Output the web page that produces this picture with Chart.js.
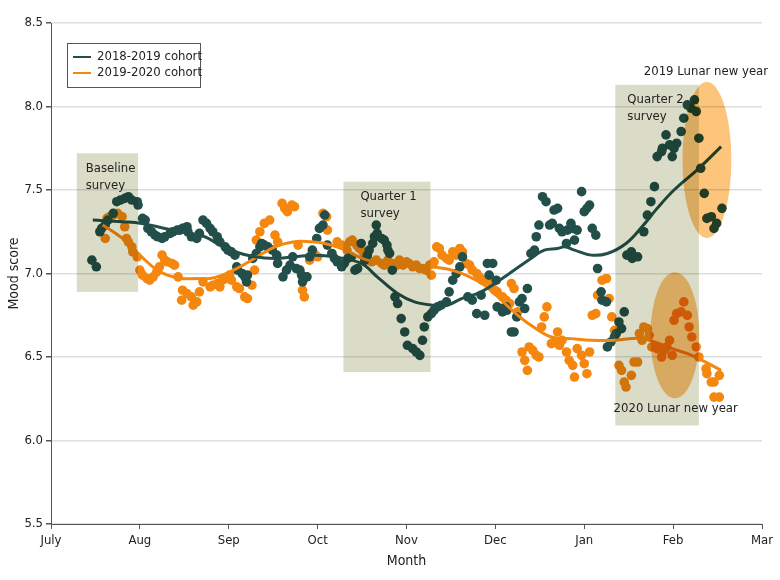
<!DOCTYPE html>
<html>
<head>
<meta charset="utf-8">
<script src="https://cdn.jsdelivr.net/npm/chart.js@4.4.1/dist/chart.umd.min.js"></script>
<style>
  html, body { margin: 0; padding: 0; background: #fff; }
  #wrap { width: 780px; height: 580px; }
</style>
</head>
<body>
<div id="wrap"><canvas id="moodChart" width="780" height="580"></canvas></div>
<script>
// Month tick labels (x = months since July 1)
const monthLabels = ['July', 'Aug', 'Sep', 'Oct', 'Nov', 'Dec', 'Jan', 'Feb', 'Mar'];
const seriesNames = ['2018-2019 cohort', '2019-2020 cohort'];

// Daily mood scores, [month, score]
const cohort1Points = [
  [0.46,7.08],[0.51,7.04],[0.55,7.25],[0.57,7.27],[0.61,7.29],[0.64,7.32],[0.70,7.36],[0.74,7.43],[0.78,7.44],[0.83,7.45],
  [0.87,7.46],[0.91,7.44],[0.97,7.43],[0.98,7.41],[1.03,7.33],[1.06,7.32],[1.09,7.27],[1.13,7.25],[1.17,7.23],[1.20,7.22],
  [1.25,7.21],[1.28,7.22],[1.34,7.24],[1.37,7.25],[1.42,7.26],[1.45,7.26],[1.48,7.27],[1.53,7.28],[1.54,7.25],[1.58,7.22],
  [1.64,7.21],[1.67,7.24],[1.71,7.32],[1.75,7.30],[1.79,7.27],[1.82,7.25],[1.87,7.22],[1.90,7.19],[1.96,7.16],[1.99,7.14],
  [2.03,7.13],[2.07,7.11],[2.09,7.04],[2.10,7.02],[2.15,7.00],[2.18,6.98],[2.20,6.95],[2.21,6.99],[2.27,7.09],[2.31,7.12],
  [2.35,7.16],[2.37,7.18],[2.40,7.17],[2.44,7.16],[2.49,7.14],[2.54,7.11],[2.55,7.06],[2.61,6.98],[2.65,7.02],[2.69,7.05],
  [2.72,7.10],[2.76,7.03],[2.80,7.02],[2.82,6.99],[2.83,6.95],[2.88,6.98],[2.91,7.10],[2.94,7.14],[2.99,7.21],[3.02,7.27],
  [3.06,7.29],[3.08,7.35],[3.11,7.17],[3.16,7.12],[3.19,7.09],[3.22,7.07],[3.27,7.04],[3.30,7.06],[3.34,7.09],[3.38,7.10],
  [3.42,7.02],[3.45,7.03],[3.49,7.18],[3.53,7.08],[3.56,7.11],[3.58,7.14],[3.62,7.18],[3.64,7.22],[3.66,7.29],[3.67,7.24],
  [3.72,7.21],[3.75,7.20],[3.78,7.17],[3.79,7.14],[3.81,7.12],[3.84,7.02],[3.87,6.86],[3.90,6.82],[3.94,6.73],[3.98,6.65],
  [4.01,6.57],[4.07,6.55],[4.11,6.53],[4.15,6.51],[4.18,6.60],[4.20,6.68],[4.24,6.74],[4.28,6.76],[4.31,6.78],[4.35,6.80],
  [4.39,6.81],[4.45,6.83],[4.48,6.89],[4.52,6.96],[4.56,7.00],[4.60,7.04],[4.63,7.10],[4.69,6.86],[4.74,6.84],[4.79,6.76],
  [4.84,6.87],[4.88,6.75],[4.91,7.06],[4.93,6.99],[4.97,7.06],[5.01,6.96],[5.02,6.80],[5.07,6.79],[5.08,6.77],[5.12,6.80],
  [5.13,6.78],[5.18,6.65],[5.21,6.65],[5.24,6.74],[5.27,6.83],[5.30,6.85],[5.33,6.79],[5.36,6.91],[5.40,7.12],[5.44,7.14],
  [5.46,7.22],[5.49,7.29],[5.53,7.46],[5.57,7.43],[5.61,7.29],[5.64,7.30],[5.66,7.38],[5.70,7.39],[5.72,7.27],[5.75,7.25],
  [5.80,7.18],[5.81,7.26],[5.85,7.30],[5.87,7.27],[5.89,7.20],[5.92,7.26],[5.97,7.49],[6.00,7.37],[6.03,7.39],[6.06,7.41],
  [6.09,7.27],[6.13,7.23],[6.15,7.03],[6.19,6.89],[6.20,6.84],[6.25,6.83],[6.26,6.56],[6.30,6.59],[6.34,6.62],[6.36,6.64],
  [6.39,6.71],[6.42,6.67],[6.45,6.77],[6.48,7.11],[6.53,7.13],[6.54,7.09],[6.60,7.10],[6.67,7.25],[6.71,7.35],[6.75,7.43],
  [6.79,7.52],[6.82,7.70],[6.87,7.73],[6.88,7.75],[6.92,7.83],[6.96,7.77],[6.99,7.70],[7.01,7.75],[7.04,7.78],[7.09,7.85],
  [7.12,7.93],[7.16,8.01],[7.20,7.99],[7.24,8.04],[7.26,7.97],[7.29,7.81],[7.31,7.63],[7.35,7.48],[7.38,7.33],[7.43,7.34],
  [7.46,7.27],[7.49,7.30],[7.55,7.39]
];

const cohort2Points = [
  [0.61,7.21],[0.63,7.33],[0.66,7.34],[0.70,7.35],[0.75,7.36],[0.80,7.34],[0.83,7.28],[0.85,7.21],[0.87,7.19],[0.91,7.16],
  [0.92,7.13],[0.97,7.10],[1.00,7.02],[1.03,6.99],[1.08,6.97],[1.11,6.96],[1.15,6.98],[1.19,7.01],[1.22,7.04],[1.25,7.11],
  [1.28,7.08],[1.31,7.07],[1.36,7.06],[1.39,7.05],[1.43,6.98],[1.48,6.90],[1.47,6.84],[1.53,6.88],[1.58,6.86],[1.60,6.81],
  [1.64,6.83],[1.67,6.89],[1.71,6.95],[1.79,6.92],[1.82,6.93],[1.87,6.94],[1.90,6.92],[1.93,6.96],[1.98,6.97],[2.01,6.99],
  [2.03,6.96],[2.09,6.92],[2.12,6.91],[2.18,6.86],[2.21,6.85],[2.26,6.93],[2.29,7.02],[2.31,7.20],[2.35,7.25],[2.40,7.30],
  [2.46,7.32],[2.52,7.23],[2.55,7.19],[2.60,7.42],[2.63,7.39],[2.66,7.37],[2.71,7.41],[2.74,7.40],[2.78,7.17],[2.83,6.90],
  [2.85,6.86],[2.91,7.08],[2.96,7.12],[3.00,7.10],[3.06,7.36],[3.10,7.34],[3.11,7.26],[3.16,7.12],[3.22,7.19],[3.27,7.17],
  [3.33,7.14],[3.36,7.19],[3.39,7.20],[3.44,7.17],[3.47,7.15],[3.51,7.13],[3.55,7.11],[3.56,7.08],[3.61,7.07],[3.66,7.08],
  [3.72,7.06],[3.75,7.05],[3.79,7.08],[3.84,7.06],[3.89,7.05],[3.92,7.08],[3.96,7.05],[4.00,7.07],[4.03,7.06],[4.07,7.04],
  [4.11,7.05],[4.15,7.03],[4.18,7.03],[4.22,7.02],[4.26,7.05],[4.28,6.99],[4.31,7.07],[4.34,7.16],[4.37,7.15],[4.40,7.11],
  [4.45,7.09],[4.48,7.08],[4.52,7.13],[4.56,7.11],[4.60,7.15],[4.63,7.13],[4.67,7.06],[4.71,7.05],[4.74,7.02],[4.79,7.00],
  [4.82,6.98],[4.85,6.96],[4.91,6.96],[4.96,6.92],[4.99,6.90],[5.02,6.89],[5.08,6.86],[5.12,6.84],[5.16,6.82],[5.18,6.94],
  [5.21,6.91],[5.25,6.77],[5.30,6.53],[5.33,6.48],[5.36,6.42],[5.38,6.56],[5.42,6.54],[5.46,6.51],[5.49,6.50],[5.52,6.68],
  [5.55,6.74],[5.58,6.80],[5.63,6.58],[5.66,6.59],[5.70,6.65],[5.72,6.57],[5.75,6.60],[5.80,6.53],[5.83,6.48],[5.87,6.45],
  [5.89,6.38],[5.92,6.55],[5.97,6.51],[6.00,6.46],[6.03,6.40],[6.06,6.53],[6.09,6.75],[6.13,6.76],[6.15,6.87],[6.20,6.96],
  [6.25,6.97],[6.28,6.85],[6.31,6.74],[6.34,6.66],[6.39,6.45],[6.42,6.42],[6.45,6.35],[6.47,6.32],[6.53,6.39],[6.56,6.47],
  [6.60,6.47],[6.62,6.64],[6.65,6.60],[6.67,6.68],[6.71,6.67],[6.73,6.63],[6.76,6.56],[6.82,6.55],[6.87,6.50],[6.90,6.54],
  [6.93,6.56],[6.96,6.60],[6.99,6.51],[7.01,6.72],[7.04,6.76],[7.09,6.77],[7.12,6.83],[7.16,6.75],[7.18,6.68],[7.21,6.62],
  [7.26,6.56],[7.29,6.50],[7.37,6.43],[7.38,6.40],[7.43,6.35],[7.46,6.35],[7.52,6.39],[7.46,6.26],[7.52,6.26]
];

// Smoothed trend lines
const cohort1Trend = [
  [0.47,7.32],[0.80,7.31],[1.02,7.30],[1.28,7.27],[1.47,7.25],[1.73,7.22],[1.90,7.17],[2.07,7.13],[2.29,7.10],[2.52,7.09],
  [2.74,7.10],[2.97,7.11],[3.19,7.10],[3.49,7.06],[3.67,6.98],[3.90,6.88],[4.09,6.83],[4.31,6.81],[4.46,6.81],[4.62,6.85],
  [4.84,6.89],[5.13,6.99],[5.40,7.09],[5.55,7.14],[5.70,7.15],[5.78,7.16],[5.89,7.14],[6.08,7.11],[6.26,7.12],[6.47,7.18],
  [6.65,7.28],[6.82,7.39],[7.01,7.50],[7.29,7.63],[7.54,7.76]
];
const cohort2Trend = [
  [0.58,7.29],[0.70,7.25],[0.85,7.19],[1.02,7.10],[1.17,7.03],[1.31,6.99],[1.47,6.97],[1.64,6.97],[1.79,6.97],[1.93,6.99],
  [2.09,7.03],[2.29,7.09],[2.52,7.16],[2.74,7.19],[2.91,7.19],[3.08,7.18],[3.27,7.15],[3.56,7.08],[3.94,7.05],[4.28,7.04],
  [4.51,7.02],[4.71,6.98],[4.88,6.93],[4.99,6.88],[5.21,6.77],[5.40,6.69],[5.63,6.62],[5.85,6.61],[6.08,6.60],[6.34,6.60],
  [6.51,6.61],[6.65,6.61],[6.79,6.59],[6.99,6.55],[7.21,6.51],[7.54,6.42]
];

// Survey windows: [from, to, bottom, top, label]
const surveyBoxes = [
  [0.29, 0.98, 6.89, 7.72, ['Baseline', 'survey']],
  [3.29, 4.27, 6.41, 7.55, ['Quarter 1', 'survey']],
  [6.35, 7.29, 6.09, 8.13, ['Quarter 2', 'survey']]
];
// Lunar new year ellipses: [centerX, centerY, radiusX, radiusY]
const lunarEllipses = [
  [7.38, 7.68, 0.275, 0.467],
  [7.02, 6.63, 0.275, 0.377]
];
const lunarLabels = [
  [6.67, 8.21, '2019 Lunar new year'],
  [6.33, 6.19, '2020 Lunar new year']
];

const tealColor = '#234f4a';
const orangeColor = '#f5870e';
const fontFamily = "'Liberation Sans Narrow', 'DejaVu Sans Condensed', 'Roboto', sans-serif";

function toXY(list) {
  return list.map(p => ({ x: p[0], y: p[1] }));
}

// Draws the survey boxes, ellipses, notes and legend over the plot
const overlayPlugin = {
  id: 'overlays',
  afterDatasetsDraw(chart) {
    const { ctx, chartArea, scales } = chart;
    const xs = scales.x, ys = scales.y;
    ctx.save();
    ctx.beginPath();
    ctx.rect(chartArea.left, chartArea.top, chartArea.right - chartArea.left, chartArea.bottom - chartArea.top);
    ctx.clip();
    ctx.globalCompositeOperation = 'multiply';

    ctx.fillStyle = '#dadcc8';
    surveyBoxes.forEach(b => {
      const x1 = xs.getPixelForValue(b[0]), x2 = xs.getPixelForValue(b[1]);
      const y1 = ys.getPixelForValue(b[3]), y2 = ys.getPixelForValue(b[2]);
      ctx.fillRect(x1, y1, x2 - x1, y2 - y1);
    });

    ctx.fillStyle = '#fdc47c';
    lunarEllipses.forEach(e => {
      const cx = xs.getPixelForValue(e[0]), cy = ys.getPixelForValue(e[1]);
      const rx = xs.getPixelForValue(e[0] + e[2]) - cx;
      const ry = cy - ys.getPixelForValue(e[1] + e[3]);
      ctx.beginPath();
      ctx.ellipse(cx, cy, rx, ry, 0, 0, Math.PI * 2);
      ctx.fill();
    });
    ctx.restore();

    // text notes
    ctx.save();
    ctx.fillStyle = '#222';
    ctx.font = '13px ' + fontFamily;
    ctx.textBaseline = 'middle';
    surveyBoxes.forEach((b, i) => {
      const offs = [9, 17, 12];
      const tx = xs.getPixelForValue(b[0]) + offs[i];
      const ty = ys.getPixelForValue(b[3]) + 15;
      ctx.fillText(b[4][0], tx, ty);
      ctx.fillText(b[4][1], tx, ty + 17);
    });
    lunarLabels.forEach(l => {
      ctx.fillText(l[2], xs.getPixelForValue(l[0]), ys.getPixelForValue(l[1]));
    });

    // legend box
    const lx = chartArea.left + 16, ly = chartArea.top + 20;
    ctx.fillStyle = '#fff';
    ctx.fillRect(lx, ly, 133, 44);
    ctx.strokeStyle = '#555';
    ctx.lineWidth = 1;
    ctx.strokeRect(lx + 0.5, ly + 0.5, 133, 44);
    [tealColor, orangeColor].forEach((c, i) => {
      const yy = ly + 14 + i * 16;
      ctx.strokeStyle = c;
      ctx.lineWidth = 2;
      ctx.beginPath();
      ctx.moveTo(lx + 6, yy);
      ctx.lineTo(lx + 24, yy);
      ctx.stroke();
      ctx.fillStyle = '#222';
      ctx.fillText(seriesNames[i], lx + 30, yy);
    });
    ctx.restore();
  }
};

const ctx = document.getElementById('moodChart').getContext('2d');
const moodChart = new Chart(ctx, {
  type: 'scatter',
  data: {
    datasets: [
      {
        label: seriesNames[0] + ' trend',
        data: toXY(cohort1Trend),
        showLine: true,
        borderColor: tealColor,
        borderWidth: 3,
        pointRadius: 0,
        tension: 0.4,
        order: 0
      },
      {
        label: seriesNames[1] + ' trend',
        data: toXY(cohort2Trend),
        showLine: true,
        borderColor: orangeColor,
        borderWidth: 3,
        pointRadius: 0,
        tension: 0.4,
        order: 1
      },
      {
        label: seriesNames[0],
        data: toXY(cohort1Points),
        backgroundColor: tealColor,
        borderWidth: 0,
        pointRadius: 4.8,
        order: 2
      },
      {
        label: seriesNames[1],
        data: toXY(cohort2Points),
        backgroundColor: orangeColor,
        borderWidth: 0,
        pointRadius: 4.8,
        order: 3
      }
    ]
  },
  options: {
    responsive: false,
    animation: false,
    layout: { padding: { top: 23, right: 18, left: 6, bottom: 10 } },
    plugins: {
      legend: { display: false },
      tooltip: { enabled: false }
    },
    scales: {
      x: {
        type: 'linear',
        min: 0,
        max: 8,
        ticks: {
          stepSize: 1,
          color: '#222',
          font: { family: fontFamily, size: 13 },
          padding: 4,
          callback: v => monthLabels[v]
        },
        grid: { drawOnChartArea: false, tickLength: 5, tickColor: '#555' },
        border: { color: '#555', width: 1 },
        title: {
          display: true,
          text: 'Month',
          color: '#222',
          font: { family: fontFamily, size: 14 },
          padding: { top: 2, bottom: 0 }
        },
        afterFit: s => { s.height = 46; }
      },
      y: {
        min: 5.5,
        max: 8.5,
        ticks: {
          stepSize: 0.5,
          color: '#222',
          font: { family: fontFamily, size: 13 },
          padding: 3,
          callback: v => v.toFixed(1)
        },
        grid: { color: '#dedede', lineWidth: 1.5, tickLength: 5, tickColor: '#555' },
        border: { color: '#555', width: 1 },
        title: {
          display: true,
          text: 'Mood score',
          color: '#222',
          font: { family: fontFamily, size: 14 },
          padding: { top: 0, bottom: 0 }
        },
        afterFit: s => { s.width = 45; }
      }
    }
  },
  plugins: [overlayPlugin]
});
</script>
</body>
</html>
